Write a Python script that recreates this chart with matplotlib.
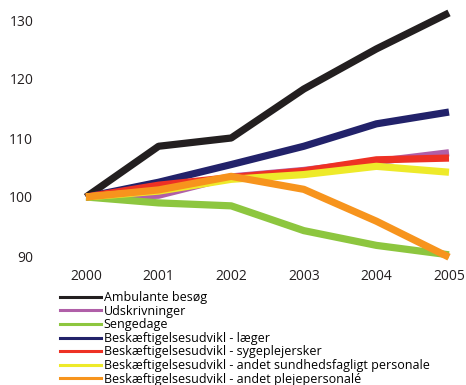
import matplotlib.pyplot as plt

plt.rcParams['font.family'] = ['Open Sans', 'DejaVu Sans']

years = [2000, 2001, 2002, 2003, 2004, 2005]

ambulante = [100, 108.6, 110.0, 118.3, 125.1, 131.2]
udskrivninger = [100, 100.3, 103.4, 104.5, 106.0, 107.5]
sengedage = [100, 99.0, 98.5, 94.3, 91.8, 90.2]
laeger = [100, 102.5, 105.5, 108.6, 112.4, 114.4]
sygeplejersker = [100, 102.0, 103.3, 104.4, 106.3, 106.6]
sundhedsfagligt = [100, 101.0, 103.0, 103.8, 105.2, 104.2]
plejepersonale = [100, 101.2, 103.5, 101.3, 95.9, 89.8]

labels = ['Ambulante besøg', 'Udskrivninger', 'Sengedage',
          'Beskæftigelsesudvikl - læger',
          'Beskæftigelsesudvikl - sygeplejersker',
          'Beskæftigelsesudvikl - andet sundhedsfagligt personale',
          'Beskæftigelsesudvikl - andet plejepersonalé']
colors = ['#231f20', '#b05fa8', '#8dc63f', '#22226a', '#ee3124', '#eeea2a', '#f7941d']
series = [ambulante, udskrivninger, sengedage, laeger, sygeplejersker,
          sundhedsfagligt, plejepersonale]

fig = plt.figure(figsize=(4.66, 3.85), dpi=100)
ax = fig.add_axes([86 / 466, 1 - 256 / 385, (449 - 86) / 466, (256 - 20) / 385])

handles = []
for vals, col, lab in zip(series, colors, labels):
    ax.plot(years, vals, color=col, lw=5.2, clip_on=False, solid_capstyle='butt')
    h, = plt.plot([], [], color=col, lw=2.2, label=lab)
    handles.append(h)

ax.set_xlim(2000, 2005)
ax.set_ylim(90, 130)
ax.set_yticks([90, 100, 110, 120, 130])
ax.set_xticks(years)
for s in ax.spines.values():
    s.set_visible(False)
ax.tick_params(length=0, labelsize=10, colors='#231f20')
ax.tick_params(axis='y', pad=38)
ax.tick_params(axis='x', pad=9)

fig.legend(handles=handles, labels=labels, loc='upper left',
           bbox_to_anchor=(60 / 466, 1 - 291 / 385), frameon=False,
           fontsize=9, labelspacing=0.05, handlelength=3.3, handletextpad=0.2,
           borderpad=0, borderaxespad=0)

fig.savefig('out.png', dpi=100)
